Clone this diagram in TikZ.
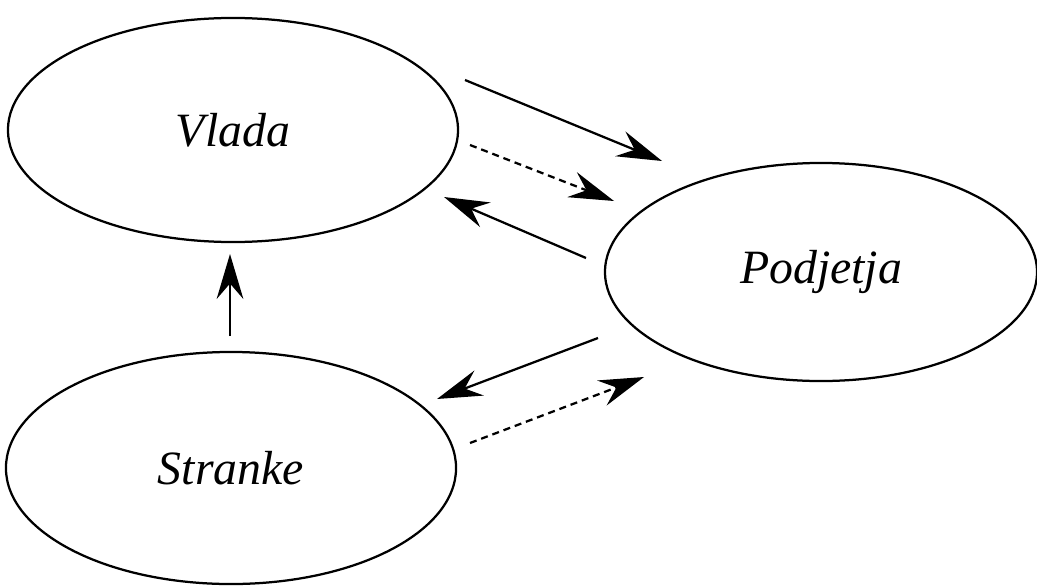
\documentclass[tikz,border=0pt]{standalone}
\usepackage{fontspec}
\setmainfont{Liberation Serif}
\usetikzlibrary{shapes.geometric, arrows.meta}

\tikzset{
	actor/.style={draw, ellipse, line width=1.6pt, inner sep=0pt,
		font=\fontsize{34}{36}\selectfont\itshape},
	flow/.style={line width=1.6pt, -{Stealth[length=32pt, width=19pt, inset=11pt]}},
	flowdashed/.style={flow, dash pattern=on 5pt off 3.5pt}
}

\begin{document}
\begin{tikzpicture}[x=0.025cm, y=-0.025cm]
	%\draw[help lines] (0,0) grid (1037,585);
	\useasboundingbox (0,0) rectangle (1037,585);
	
	\node [actor, minimum width=11.25cm, minimum height=5.6cm] (vlada) at (233,130) {Vlada};		% oben links
	\node [actor, minimum width=10.8cm, minimum height=5.45cm] (podjetja) at (821,272) {Podjetja};	% rechts
	\node [actor, minimum width=11.25cm, minimum height=5.8cm] (stranke) at (231,468) {Stranke};	% unten links
	
	\coordinate (v1) at (465,80);	\coordinate (p1) at (662,161);
	\coordinate (v2) at (470,145);	\coordinate (p2) at (614,201);
	\coordinate (p3) at (586,258);	\coordinate (v3) at (444,197);
	\coordinate (s4) at (230,336);	\coordinate (v4) at (230,254);
	\coordinate (p5) at (598,338);	\coordinate (s5) at (437,399);
	\coordinate (s6) at (470,443);	\coordinate (p6) at (644,377);
	
	\draw [flow] (v1) -- (p1);
	\draw [flowdashed] (v2) -- (p2);
	\draw [flow] (p3) -- (v3);
	\draw [flow] (s4) -- (v4);
	\draw [flow] (p5) -- (s5);
	\draw [flowdashed] (s6) -- (p6);
\end{tikzpicture}
\end{document}
